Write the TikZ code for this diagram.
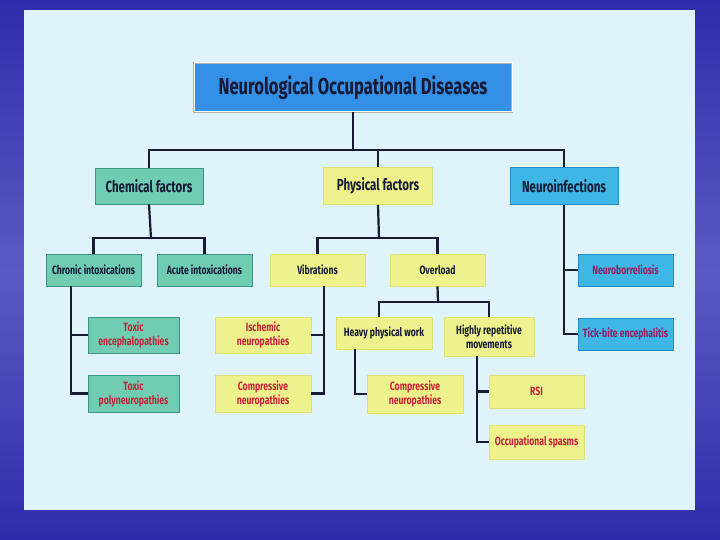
\documentclass[tikz,border=0pt]{standalone}
\usepackage{fontspec}
\setmainfont{Fira Sans}[FakeStretch=0.72]
\definecolor{slideBlue}{RGB}{46,44,170}
\definecolor{slideLight}{RGB}{90,90,196}
\definecolor{panelBg}{RGB}{222,243,250}
\definecolor{titleBlue}{RGB}{52,144,230}
\definecolor{chemGreen}{RGB}{112,204,178}
\definecolor{chemEdge}{RGB}{58,150,130}
\definecolor{physYellow}{RGB}{238,242,140}
\definecolor{physEdge}{RGB}{222,226,120}
\definecolor{infBlue}{RGB}{62,182,230}
\definecolor{infEdge}{RGB}{36,140,200}
\definecolor{inkDark}{RGB}{22,26,52}
\definecolor{leafRed}{RGB}{196,36,58}
\definecolor{leafPurple}{RGB}{150,30,95}
\usetikzlibrary{positioning,calc}

\begin{document}
\begin{tikzpicture}[x=1pt, y=-1pt,
  box/.style={rectangle, line width=0.9pt, inner sep=1pt, align=center,
              font=\bfseries\fontsize{12}{14}\selectfont, text=inkDark},
  head/.style={font=\bfseries\fontsize{16}{18}\selectfont},
  chem/.style={box, fill=chemGreen, draw=chemEdge},
  phys/.style={box, fill=physYellow, draw=physEdge},
  inf/.style={box, fill=infBlue, draw=infEdge},
  leaf/.style={text=leafRed},
  link/.style={draw=inkDark, line width=2.2pt}
]
  % slide frame
  \useasboundingbox (0,0) rectangle (720,540);
  \shade[top color=slideBlue, bottom color=slideBlue, middle color=slideLight] (0,0) rectangle (720,540);
  \fill[panelBg] (24,10) rectangle (695,510);

  % top
  \node[box, fill=titleBlue, draw=gray!60, double=white, double distance=1pt,
        minimum width=318pt, minimum height=49pt,
        font=\bfseries\fontsize{23}{25}\selectfont] (root) at (353,87.5)
        {Neurological Occupational Diseases};

  % level 1
  \node[chem, head, minimum width=108pt, minimum height=36pt] (chem) at (149,186) {Chemical factors};
  \node[phys, head, minimum width=109pt, minimum height=37pt] (phys) at (378,186) {Physical factors};
  \node[inf, head,  minimum width=108pt, minimum height=37pt] (neuro) at (564,186) {Neuroinfections};

  % level 2
  \node[chem, minimum width=95pt, minimum height=32pt] (chronic) at (93.5,270) {Chronic intoxications};
  \node[chem, minimum width=95pt, minimum height=32pt] (acute) at (204.5,270) {Acute intoxications};
  \node[phys, minimum width=95pt, minimum height=32pt] (vib) at (317.5,270) {Vibrations};
  \node[phys, minimum width=95pt, minimum height=32pt] (over) at (437.5,270) {Overload};
  \node[inf, text=leafPurple, minimum width=95pt, minimum height=32pt] (borrel) at (625.5,270) {Neuroborreliosis};

  % level 3
  \node[chem, leaf, minimum width=91pt, minimum height=36pt] (toxenc) at (133.5,335) {Toxic\\encephalopathies};
  \node[chem, leaf, minimum width=91pt, minimum height=37pt] (toxpoly) at (133.5,393.5) {Toxic\\polyneuropathies};
  \node[phys, leaf, minimum width=96pt, minimum height=36pt] (isch) at (263,335) {Ischemic\\neuropathies};
  \node[phys, leaf, minimum width=96pt, minimum height=37pt] (comp) at (263,393.5) {Compressive\\neuropathies};
  \node[phys, minimum width=96pt, minimum height=32pt] (heavy) at (384,333) {Heavy physical work};
  \node[phys, minimum width=90pt, minimum height=39pt] (rep) at (489,336.5) {Highly repetitive\\movements};
  \node[inf, text=leafPurple, minimum width=95pt, minimum height=32pt] (tick) at (625.5,334) {Tick-bite encephalitis};

  % level 4
  \node[phys, leaf, minimum width=96pt, minimum height=38pt] (comp2) at (415,394) {Compressive\\neuropathies};
  \node[phys, leaf, minimum width=95pt, minimum height=33pt] (rsi) at (536.5,391.5) {RSI};
  \node[phys, leaf, minimum width=95pt, minimum height=34pt] (spasm) at (536.5,442) {Occupational spasms};

  % junctions
  \coordinate (j0) at (353,150);
  \coordinate (j1) at (151,238);
  \coordinate (j2) at (379,238);
  \coordinate (j3) at (438,302);
  \coordinate (a1) at (71,286);
  \coordinate (a2) at (324,286);
  \coordinate (a3) at (355,349);
  \coordinate (a4) at (477,356);

  % connectors
  \draw[link] (root.south) -- (j0);
  \draw[link] (chem.north) |- (j0) -| (neuro.north);
  \draw[link] (phys.north) -- (phys.north |- j0);

  \draw[link] (chem.south) -- (j1);
  \draw[link] (chronic.north) |- (j1) -| (acute.north);
  \draw[link] (phys.south) -- (j2);
  \draw[link] (vib.north) |- (j2) -| (over.north);
  \draw[link] (over.south) -- (j3);
  \draw[link] ([xshift=-5pt]heavy.north) |- (j3) -| (rep.north);

  \draw[link] (a1) |- (toxpoly.west);
  \draw[link] (a1 |- toxenc.west) -- (toxenc.west);
  \draw[link] (a2) |- (comp.east);
  \draw[link] (a2 |- isch.east) -- (isch.east);
  \draw[link] (neuro.south) |- (tick.west);
  \draw[link] (neuro.south |- borrel.west) -- (borrel.west);
  \draw[link] (a3) |- (comp2.west);
  \draw[link] (a4) |- (spasm.west);
  \draw[link] (a4 |- rsi.west) -- (rsi.west);
\end{tikzpicture}
\end{document}
